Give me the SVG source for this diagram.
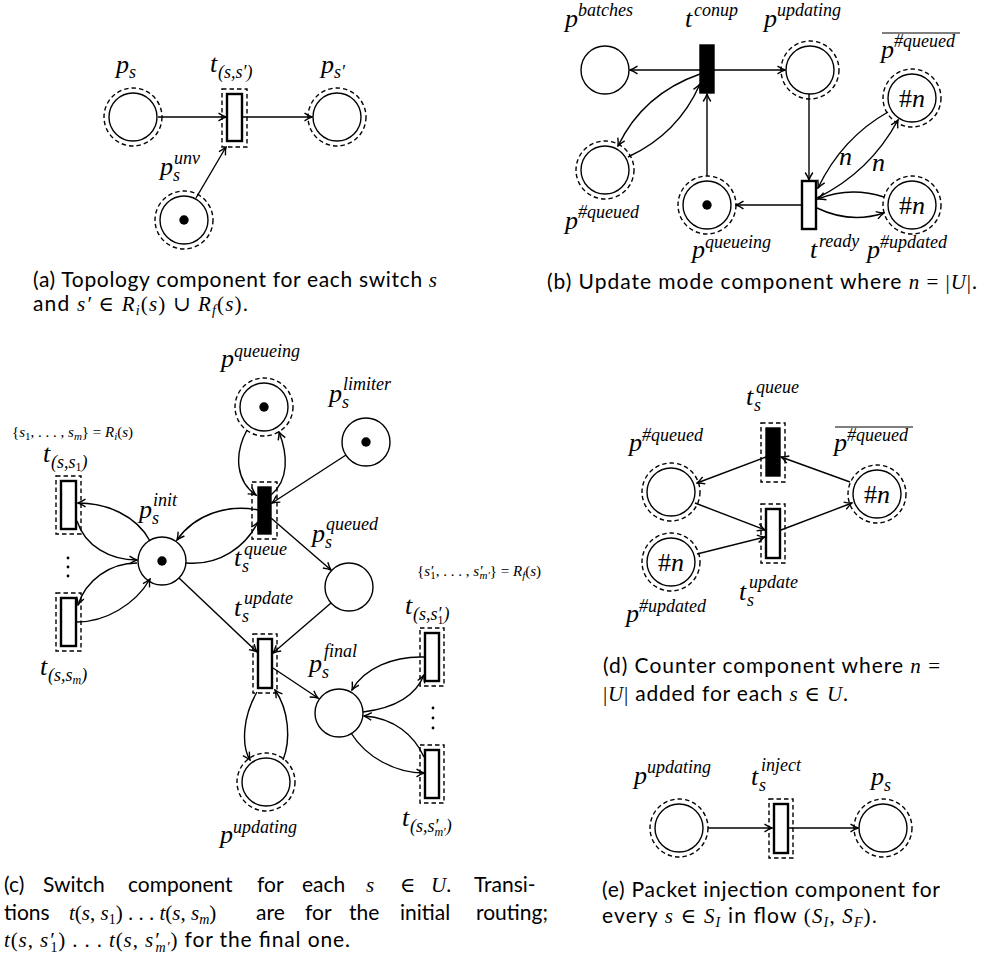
<svg xmlns="http://www.w3.org/2000/svg" width="985" height="963" viewBox="0 0 985 963">
  <style>
    .pl { fill: #fff; stroke: #000; stroke-width: 1.4; }
    .ring { fill: none; stroke: #000; stroke-width: 1.4; stroke-dasharray: 4.5 3; }
    .tr { fill: #fff; stroke: #000; stroke-width: 2.4; }
    .trb { fill: #000; stroke: #000; stroke-width: 1.4; }
    .box { fill: none; stroke: #000; stroke-width: 1.4; stroke-dasharray: 4.5 3; }
    .tok { fill: #000; }
    .arc { fill: none; stroke: #000; stroke-width: 1.4; marker-end: url(#ah); }
    .m { font-family: "Liberation Serif", "DejaVu Serif", serif; font-style: italic; font-size: 26px; fill: #000; }
    .s { font-family: "Liberation Serif", "DejaVu Serif", serif; font-style: italic; font-size: 18px; fill: #000; }
    .set { font-family: "Liberation Serif", "DejaVu Serif", serif; font-size: 15px; fill: #000; }
    .cnt { font-family: "Liberation Serif", "DejaVu Serif", serif; font-size: 26px; fill: #000; text-anchor: middle; }
    .cap { font-family: Lato, "Noto Sans", "Liberation Sans", sans-serif; font-size: 21px; fill: #000; }
    .i { font-family: "Liberation Serif", "DejaVu Serif", serif; font-style: italic; }
    .r { font-family: "Liberation Serif", "DejaVu Serif", serif; font-style: normal; }
    .up { font-style: normal; }
    .bar { stroke: #000; stroke-width: 1.2; }
  </style>
  <defs>
    <marker id="ah" viewBox="-9 -5 10 10" refX="0" refY="0" markerWidth="10" markerHeight="10" markerUnits="userSpaceOnUse" orient="auto">
      <path d="M-7.5,-3.8 Q-3,-0.9 0,0 Q-3,0.9 -7.5,3.8" fill="none" stroke="#000" stroke-width="1.4"/>
    </marker>
  </defs>
  <rect width="985" height="963" fill="#fff"/>

  <!-- (a) topology component -->
  <g id="a-ps">
    <circle class="ring" cx="133" cy="117" r="29"/>
    <circle class="pl" cx="133" cy="117" r="24"/>
    <text class="m" x="116" y="73">p</text><text class="s" x="129" y="78">s</text>
  </g>
  <g id="a-t">
    <rect class="box" x="222" y="89" width="25" height="58"/>
    <rect class="tr" x="227" y="94" width="15" height="47"/>
    <text class="m" x="210" y="72">t</text><text class="s" x="218" y="78">(s,s′)</text>
  </g>
  <g id="a-ps2">
    <circle class="ring" cx="337" cy="117" r="29"/>
    <circle class="pl" cx="337" cy="117" r="24"/>
    <text class="m" x="321" y="73">p</text><text class="s" x="334" y="78">s′</text>
  </g>
  <g id="a-punv">
    <circle class="ring" cx="184" cy="220" r="29"/>
    <circle class="pl" cx="184" cy="220" r="24"/>
    <circle class="tok" cx="184" cy="220" r="4.7"/>
    <text class="m" x="160" y="175">p</text><text class="s" x="173" y="181">s</text><text class="s" x="174" y="164">unv</text>
  </g>
  <g id="a-arcs">
    <path class="arc" d="M158,117 L226,117"/>
    <path class="arc" d="M243,117 L312,117"/>
    <path class="arc" d="M196,198 L226,147"/>
  </g>
  <text class="cap" x="33" y="287" textLength="404" lengthAdjust="spacing">(a) Topology component for each switch <tspan class="i">s</tspan></text>
  <text class="cap" x="33" y="311" textLength="215" lengthAdjust="spacing">and <tspan class="i">s′</tspan> <tspan class="r">∈</tspan> <tspan class="i">R<tspan font-size="14" dy="4">i</tspan></tspan><tspan class="r" dy="-4">(</tspan><tspan class="i">s</tspan><tspan class="r">) ∪ </tspan><tspan class="i">R<tspan font-size="14" dy="4">f</tspan></tspan><tspan class="r" dy="-4">(</tspan><tspan class="i">s</tspan><tspan class="r">).</tspan></text>

  <!-- (b) update mode component -->
  <g id="b-batches">
    <circle class="pl" cx="605" cy="70" r="24"/>
    <text class="m" x="565" y="27">p</text><text class="s" x="578" y="16">batches</text>
  </g>
  <g id="b-conup">
    <rect class="trb" x="700" y="45" width="14" height="48"/>
    <text class="m" x="685" y="27">t</text><text class="s" x="694" y="16">conup</text>
  </g>
  <g id="b-updating">
    <circle class="ring" cx="810" cy="70" r="29"/>
    <circle class="pl" cx="810" cy="70" r="24"/>
    <text class="m" x="764" y="27">p</text><text class="s" x="777" y="16">updating</text>
  </g>
  <g id="b-nqueued">
    <circle class="ring" cx="912" cy="98" r="29"/>
    <circle class="pl" cx="912" cy="98" r="24"/>
    <text class="cnt" x="912" y="107">#<tspan class="i">n</tspan></text>
    <line class="bar" x1="882" y1="33" x2="960" y2="33"/>
    <text class="m" x="881" y="58">p</text><text class="s" x="894" y="47">#queued</text>
  </g>
  <g id="b-queued">
    <circle class="ring" cx="605" cy="170" r="29"/>
    <circle class="pl" cx="605" cy="170" r="24"/>
    <text class="m" x="565" y="229">p</text><text class="s" x="578" y="218">#queued</text>
  </g>
  <g id="b-queueing">
    <circle class="ring" cx="707" cy="205" r="29"/>
    <circle class="pl" cx="707" cy="205" r="24"/>
    <circle class="tok" cx="707" cy="205" r="4.7"/>
    <text class="m" x="692" y="258">p</text><text class="s" x="705" y="248">queueing</text>
  </g>
  <g id="b-ready">
    <rect class="tr" x="802" y="181" width="14" height="48"/>
    <text class="m" x="810" y="258">t</text><text class="s" x="819" y="247">ready</text>
  </g>
  <g id="b-updated">
    <circle class="ring" cx="912" cy="205" r="29"/>
    <circle class="pl" cx="912" cy="205" r="24"/>
    <text class="cnt" x="912" y="214">#<tspan class="i">n</tspan></text>
    <text class="m" x="867" y="258">p</text><text class="s" x="880" y="248">#updated</text>
  </g>
  <g id="b-arcs">
    <path class="arc" d="M700,70 L630,70"/>
    <path class="arc" d="M714,70 L785,70"/>
    <path class="arc" d="M700,74 Q643,94 618,146"/>
    <path class="arc" d="M628,157 Q678,134 700,84"/>
    <path class="arc" d="M707,176 L707,94"/>
    <path class="arc" d="M809,94 L809,180"/>
    <path class="arc" d="M802,205 L736,205"/>
    <path class="arc" d="M888,112 Q842,138 818,188"/>
    <path class="arc" d="M817,198 Q870,172 898,120"/>
    <path class="arc" d="M884,197 Q850,186 818,199"/>
    <path class="arc" d="M817,208 Q850,224 884,213"/>
    <text class="m" x="839" y="165">n</text>
    <text class="m" x="872" y="171">n</text>
  </g>
  <text class="cap" x="547" y="289" textLength="430" lengthAdjust="spacing">(b) Update mode component where <tspan class="i">n</tspan> <tspan class="r">= |</tspan><tspan class="i">U</tspan><tspan class="r">|</tspan>.</text>

  <!-- (c) switch component -->
  <g id="c-queueing">
    <circle class="ring" cx="264" cy="407" r="29"/>
    <circle class="pl" cx="264" cy="407" r="24"/>
    <circle class="tok" cx="264" cy="407" r="4.7"/>
    <text class="m" x="221" y="367">p</text><text class="s" x="234" y="357">queueing</text>
  </g>
  <g id="c-limiter">
    <circle class="pl" cx="366" cy="442" r="24"/>
    <circle class="tok" cx="366" cy="442" r="4.7"/>
    <text class="m" x="329" y="402">p</text><text class="s" x="342" y="408">s</text><text class="s" x="343" y="390">limiter</text>
  </g>
  <g id="c-tqueue">
    <rect class="box" x="252" y="482" width="25" height="57"/>
    <rect class="trb" x="258" y="487" width="13" height="47"/>
    <text class="m" x="234" y="566">t</text><text class="s" x="242" y="572">s</text><text class="s" x="244" y="555">queue</text>
  </g>
  <g id="c-init">
    <circle class="pl" cx="162" cy="561" r="24"/>
    <circle class="tok" cx="162" cy="561" r="4.7"/>
    <text class="m" x="139" y="518">p</text><text class="s" x="152" y="524">s</text><text class="s" x="153" y="506">init</text>
  </g>
  <text class="set" x="12" y="437">{<tspan class="i">s</tspan><tspan font-size="11" dy="3">1</tspan><tspan dy="-3">, . . . , </tspan><tspan class="i">s<tspan font-size="11" dy="3">m</tspan></tspan><tspan dy="-3">} = </tspan><tspan class="i">R<tspan font-size="11" dy="3">i</tspan></tspan><tspan dy="-3">(</tspan><tspan class="i">s</tspan>)</text>
  <g id="c-ts1">
    <rect class="box" x="56" y="476" width="25" height="58"/>
    <rect class="tr" x="61" y="481" width="15" height="48"/>
    <text class="m" x="43" y="462">t</text><text class="s" x="51" y="468">(s,s<tspan font-size="12" dy="3" class="up">1</tspan><tspan dy="-3">)</tspan></text>
  </g>
  <g id="c-tsm">
    <rect class="box" x="56" y="593" width="25" height="58"/>
    <rect class="tr" x="61" y="598" width="15" height="48"/>
    <text class="m" x="40" y="675">t</text><text class="s" x="48" y="681">(s,s<tspan font-size="12" dy="3">m</tspan><tspan dy="-3">)</tspan></text>
  </g>
  <g id="c-dots-i">
    <circle class="tok" cx="68" cy="558" r="1.4"/>
    <circle class="tok" cx="68" cy="567" r="1.4"/>
    <circle class="tok" cx="68" cy="576" r="1.4"/>
  </g>
  <g id="c-queued">
    <circle class="pl" cx="349" cy="587" r="24"/>
    <text class="m" x="312" y="542">p</text><text class="s" x="325" y="548">s</text><text class="s" x="326" y="530">queued</text>
  </g>
  <g id="c-tupdate">
    <rect class="box" x="253" y="634" width="24" height="59"/>
    <rect class="tr" x="258" y="639" width="14" height="49"/>
    <text class="m" x="234" y="616">t</text><text class="s" x="242" y="622">s</text><text class="s" x="244" y="604">update</text>
  </g>
  <g id="c-final">
    <circle class="pl" cx="339" cy="713" r="24"/>
    <text class="m" x="309" y="672">p</text><text class="s" x="322" y="678">s</text><text class="s" x="324" y="657">final</text>
  </g>
  <g id="c-updating">
    <circle class="ring" cx="266" cy="782" r="29"/>
    <circle class="pl" cx="266" cy="782" r="24"/>
    <text class="m" x="220" y="843">p</text><text class="s" x="233" y="833">updating</text>
  </g>
  <text class="set" x="417" y="576">{<tspan class="i">s′</tspan><tspan font-size="11" dx="-3" dy="3">1</tspan><tspan dy="-3">, . . . , </tspan><tspan class="i">s′<tspan font-size="11" dx="-3" dy="3">m′</tspan></tspan><tspan dy="-3">} = </tspan><tspan class="i">R<tspan font-size="11" dy="3">f</tspan></tspan><tspan dy="-3">(</tspan><tspan class="i">s</tspan>)</text>
  <g id="c-tsp1">
    <rect class="box" x="420" y="628" width="24" height="58"/>
    <rect class="tr" x="425" y="633" width="14" height="48"/>
    <text class="m" x="405" y="614">t</text><text class="s" x="413" y="620">(s,s′<tspan font-size="12" dx="-4" dy="4" class="up">1</tspan><tspan dy="-4">)</tspan></text>
  </g>
  <g id="c-tspm">
    <rect class="box" x="420" y="745" width="24" height="58"/>
    <rect class="tr" x="425" y="750" width="14" height="48"/>
    <text class="m" x="402" y="826">t</text><text class="s" x="410" y="832">(s,s′<tspan font-size="12" dx="-4" dy="4">m′</tspan><tspan dy="-4">)</tspan></text>
  </g>
  <g id="c-dots-f">
    <circle class="tok" cx="433" cy="708" r="1.4"/>
    <circle class="tok" cx="433" cy="718" r="1.4"/>
    <circle class="tok" cx="433" cy="728" r="1.4"/>
  </g>
  <g id="c-arcs">
    <path class="arc" d="M247,430 C233,456 237,482 256,495"/>
    <path class="arc" d="M271,495 C289,480 288,455 279,432"/>
    <path class="arc" d="M346,455 L272,503"/>
    <path class="arc" d="M271,518 L331,570"/>
    <path class="arc" d="M258,510 C228,504 195,514 177,540"/>
    <path class="arc" d="M186,563 C220,566 246,546 258,522"/>
    <path class="arc" d="M179,578 L257,652"/>
    <path class="arc" d="M331,603 L273,653"/>
    <path class="arc" d="M150,541 C136,515 106,503 78,503"/>
    <path class="arc" d="M77,521 C85,546 110,560 137,560"/>
    <path class="arc" d="M137,563 C110,563 86,580 78,605"/>
    <path class="arc" d="M77,622 C105,622 135,605 150,579"/>
    <path class="arc" d="M257,692 C243,716 241,745 250,760"/>
    <path class="arc" d="M283,760 C291,740 289,710 275,690"/>
    <path class="arc" d="M273,668 L318,698"/>
    <path class="arc" d="M424,657 C394,656 364,668 352,690"/>
    <path class="arc" d="M363,712 C395,708 416,695 424,675"/>
    <path class="arc" d="M424,757 C414,735 394,718 364,716"/>
    <path class="arc" d="M351,733 C366,757 395,773 424,773"/>
  </g>
  <text class="cap" y="892"><tspan x="4">(c)</tspan><tspan x="43">Switch</tspan><tspan x="128">component</tspan><tspan x="257">for</tspan><tspan x="302">each</tspan><tspan x="366" class="i">s</tspan><tspan x="400" class="r">∈</tspan><tspan x="431" class="i">U</tspan><tspan>.</tspan><tspan x="474">Transi-</tspan></text>
  <text class="cap" y="920"><tspan x="4">tions</tspan><tspan x="69" class="i">t</tspan><tspan class="r">(</tspan><tspan class="i">s</tspan><tspan class="r">, </tspan><tspan class="i">s</tspan><tspan class="r" font-size="14" dy="4">1</tspan><tspan class="r" dy="-4">) . . . </tspan><tspan class="i">t</tspan><tspan class="r">(</tspan><tspan class="i">s</tspan><tspan class="r">, </tspan><tspan class="i">s<tspan font-size="14" dy="4">m</tspan></tspan><tspan class="r" dy="-4">)</tspan><tspan x="256">are</tspan><tspan x="305">for</tspan><tspan x="349">the</tspan><tspan x="400">initial</tspan><tspan x="476">routing;</tspan></text>
  <text class="cap" y="947" textLength="346" lengthAdjust="spacing"><tspan x="4" class="i">t</tspan><tspan class="r">(</tspan><tspan class="i">s</tspan><tspan class="r">, </tspan><tspan class="i">s′</tspan><tspan class="r" font-size="14" dx="-4" dy="5">1</tspan><tspan class="r" dy="-5">) . . . </tspan><tspan class="i">t</tspan><tspan class="r">(</tspan><tspan class="i">s</tspan><tspan class="r">, </tspan><tspan class="i">s′<tspan font-size="14" dx="-4" dy="5">m′</tspan></tspan><tspan class="r" dy="-5">)</tspan> for the final one.</text>

  <!-- (d) counter component -->
  <g id="d-tqueue">
    <rect class="box" x="761" y="423" width="24" height="59"/>
    <rect class="trb" x="766" y="428" width="14" height="48"/>
    <text class="m" x="746" y="405">t</text><text class="s" x="754" y="411">s</text><text class="s" x="756" y="393">queue</text>
  </g>
  <g id="d-queued">
    <circle class="ring" cx="671" cy="492" r="29"/>
    <circle class="pl" cx="671" cy="492" r="24"/>
    <text class="m" x="629" y="451">p</text><text class="s" x="642" y="441">#queued</text>
  </g>
  <g id="d-nqueued">
    <circle class="ring" cx="877" cy="494" r="29"/>
    <circle class="pl" cx="877" cy="494" r="24"/>
    <text class="cnt" x="877" y="503">#<tspan class="i">n</tspan></text>
    <line class="bar" x1="835" y1="427" x2="913" y2="427"/>
    <text class="m" x="834" y="451">p</text><text class="s" x="847" y="441">#queued</text>
  </g>
  <g id="d-tupdate">
    <rect class="box" x="761" y="504" width="24" height="59"/>
    <rect class="tr" x="766" y="509" width="14" height="49"/>
    <text class="m" x="739" y="600">t</text><text class="s" x="747" y="606">s</text><text class="s" x="749" y="588">update</text>
  </g>
  <g id="d-updated">
    <circle class="ring" cx="671" cy="562" r="29"/>
    <circle class="pl" cx="671" cy="562" r="24"/>
    <text class="cnt" x="671" y="571">#<tspan class="i">n</tspan></text>
    <text class="m" x="626" y="622">p</text><text class="s" x="639" y="612">#updated</text>
  </g>
  <g id="d-arcs">
    <path class="arc" d="M766,457 L697,483"/>
    <path class="arc" d="M850,482 L781,457"/>
    <path class="arc" d="M695,503 L765,530"/>
    <path class="arc" d="M697,554 L765,537"/>
    <path class="arc" d="M781,530 L852,503"/>
  </g>
  <text class="cap" x="603" y="673" textLength="337" lengthAdjust="spacing">(d) Counter component where <tspan class="i">n</tspan> <tspan class="r">=</tspan></text>
  <text class="cap" x="603" y="701" textLength="245" lengthAdjust="spacing"><tspan class="r">|</tspan><tspan class="i">U</tspan><tspan class="r">|</tspan> added for each <tspan class="i">s</tspan> <tspan class="r">∈</tspan> <tspan class="i">U</tspan>.</text>

  <!-- (e) packet injection component -->
  <g id="e-updating">
    <circle class="ring" cx="679" cy="828" r="29"/>
    <circle class="pl" cx="679" cy="828" r="24"/>
    <text class="m" x="634" y="784">p</text><text class="s" x="647" y="773">updating</text>
  </g>
  <g id="e-tinject">
    <rect class="box" x="769" y="799" width="24" height="59"/>
    <rect class="tr" x="774" y="804" width="14" height="49"/>
    <text class="m" x="751" y="785">t</text><text class="s" x="759" y="791">s</text><text class="s" x="761" y="771">inject</text>
  </g>
  <g id="e-ps">
    <circle class="ring" cx="883" cy="828" r="29"/>
    <circle class="pl" cx="883" cy="828" r="24"/>
    <text class="m" x="871" y="785">p</text><text class="s" x="884" y="791">s</text>
  </g>
  <g id="e-arcs">
    <path class="arc" d="M708,828 L772,828"/>
    <path class="arc" d="M789,828 L858,828"/>
  </g>
  <text class="cap" x="602" y="897" textLength="338" lengthAdjust="spacing">(e) Packet injection component for</text>
  <text class="cap" x="602" y="923" textLength="275" lengthAdjust="spacing">every <tspan class="i">s</tspan> <tspan class="r">∈</tspan> <tspan class="i">S<tspan font-size="14" dy="4">I</tspan></tspan><tspan dy="-4"> in flow </tspan><tspan class="r">(</tspan><tspan class="i">S<tspan font-size="14" dy="4">I</tspan></tspan><tspan class="r" dy="-4">, </tspan><tspan class="i">S<tspan font-size="14" dy="4">F</tspan></tspan><tspan class="r" dy="-4">).</tspan></text>
</svg>
